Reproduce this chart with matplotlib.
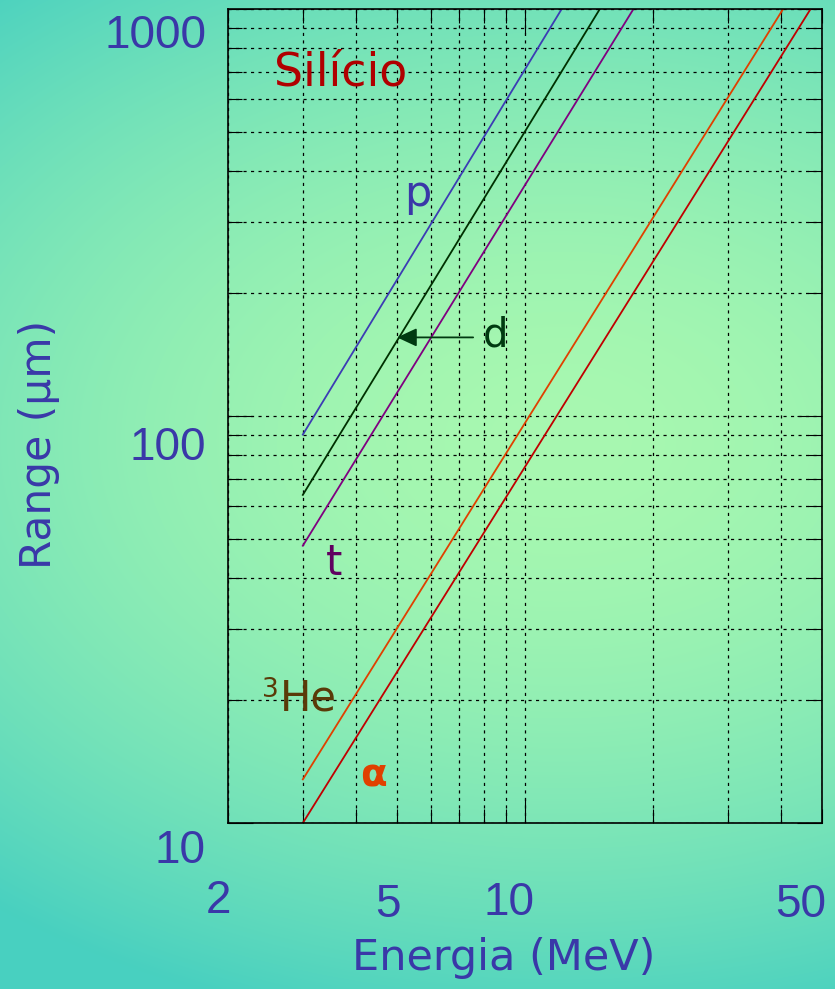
import numpy as np
import matplotlib
matplotlib.use('Agg')
import matplotlib.pyplot as plt
import matplotlib.transforms as mtransforms
from matplotlib.ticker import LogLocator, NullFormatter

W, H = 835, 989

# alcance em silicio (um) vs energia (MeV)
E_p = [3.0, 12.2]
R_p = [90, 1000]
E_d = [3.0, 15.0]
R_d = [64, 1000]
E_t = [3.0, 18.0]
R_t = [48, 1000]
E_he3 = [3.0, 40.5]
R_he3 = [12.8, 1000]
E_alpha = [3.0, 47.0]
R_alpha = [10, 1000]

xtick_vals = [2, 5, 10, 50]
xtick_labels = ['2', '5', '10', '50']
ytick_vals = [1000, 100, 10]
ytick_labels = ['1000', '100', '10']

azul = '#3a38a8'
fonte_num = 'Liberation Sans'
fonte_txt = 'DejaVu Sans'

fig = plt.figure(figsize=(W / 100, H / 100), dpi=100)

# fundo degrade (eliptico, mais claro no meio)
bg = fig.add_axes([0, 0, 1, 1], zorder=-10)
yy, xx = np.mgrid[0:H, 0:W]
dist = np.hypot((xx - 560) / 900, (yy - 440) / 600)
tt = np.clip(dist, 0, 1) ** 1.8
c_centro = np.array([168, 248, 176]) / 255
c_borda = np.array([72, 208, 192]) / 255
img = c_centro * (1 - tt[..., None]) + c_borda * tt[..., None]
bg.imshow(img, aspect='auto', interpolation='bilinear')
bg.axis('off')

ax = fig.add_axes([228 / W, 1 - 823 / H, (822 - 228) / W, (823 - 9) / H])
ax.set_facecolor('none')
ax.set_xscale('log')
ax.set_yscale('log')
ax.set_xlim(2, 50)
ax.set_ylim(10, 1000)

for loc in (ax.xaxis, ax.yaxis):
    loc.set_major_locator(LogLocator(base=10))
    loc.set_minor_locator(LogLocator(base=10, subs=range(2, 10)))
    loc.set_major_formatter(NullFormatter())
    loc.set_minor_formatter(NullFormatter())

ax.grid(which='both', color='black', linestyle=(0, (2.5, 3.5)), linewidth=0.9)
ax.tick_params(which='both', direction='in', top=True, right=True,
               labelbottom=False, labelleft=False, color='black', width=0.8)
ax.tick_params(which='major', length=18)
ax.tick_params(which='minor', length=10)
for s in ax.spines.values():
    s.set_linewidth(1.2)
    s.set_color('black')

ax.plot(E_p, R_p, color='#3c3cb4', lw=1.3)
ax.plot(E_d, R_d, color='#003000', lw=1.3)
ax.plot(E_t, R_t, color='#800080', lw=1.3)
ax.plot(E_he3, R_he3, color='#e04000', lw=1.3)
ax.plot(E_alpha, R_alpha, color='#c00000', lw=1.3)


def desloc(dx, dy):
    # deslocamento em pixels (dy positivo = para baixo)
    return mtransforms.ScaledTranslation(dx / 100, -dy / 100, fig.dpi_scale_trans)


# rotulos dos eixos (deslocados como no original)
trans_x = mtransforms.blended_transform_factory(ax.transData, ax.transAxes)
dx_x = [-10, -9, -16, -21]
dy_x = [90, 94, 92, 94]
for v, lab, dx, dy in zip(xtick_vals, xtick_labels, dx_x, dy_x):
    ax.text(v, 0, lab, transform=trans_x + desloc(dx, dy), ha='center', va='baseline',
            fontsize=33, color=azul, family=fonte_num, clip_on=False)

trans_y = mtransforms.blended_transform_factory(ax.transAxes, ax.transData)
dy_y = [39, 44, 40]
for v, lab, dy in zip(ytick_vals, ytick_labels, dy_y):
    ax.text(0, v, lab, transform=trans_y + desloc(-22, dy), ha='right', va='baseline',
            fontsize=33, color=azul, family=fonte_num, clip_on=False)

fig.text(504 / W, 1 - 970 / H, 'Energia (MeV)', ha='center', va='baseline',
         fontsize=31, color=azul, family=fonte_txt)
fig.text(51 / W, 1 - 444 / H, 'Range (µm)', rotation=90, rotation_mode='anchor',
         ha='center', va='baseline', fontsize=30.5, color=azul, family=fonte_txt)

# anotacoes
ax.text(2.57, 650, 'Silício', ha='left', va='baseline', fontsize=33,
        color='#b00000', family=fonte_txt)
ax.text(5.6, 328, 'p', ha='center', va='baseline', fontsize=31,
        color=azul, family=fonte_txt)
ax.text(8.5, 148, 'd', ha='center', va='baseline', fontsize=29,
        color='#003a10', family=fonte_txt)
ax.annotate('', xy=(5.0, 156), xytext=(7.55, 156),
            arrowprops=dict(arrowstyle='-|>,head_length=0.6,head_width=0.28',
                            mutation_scale=20, color='#003a10', lw=1.3,
                            shrinkA=0, shrinkB=0))
ax.text(3.55, 40.7, 't', ha='center', va='baseline', fontsize=30,
        color='#600060', family=fonte_txt)
ax.text(2.40, 20.4, '3', ha='left', va='baseline', fontsize=19,
        color='#5a3a08', family=fonte_txt)
ax.text(2.65, 18.95, 'He', ha='left', va='baseline', fontsize=30,
        color='#5a3a08', family=fonte_txt)
ax.text(4.41, 12.26, 'α', ha='center', va='baseline', fontsize=28, fontweight='bold',
        color='#e04000', family=fonte_txt)

fig.savefig('out.png', dpi=100)
